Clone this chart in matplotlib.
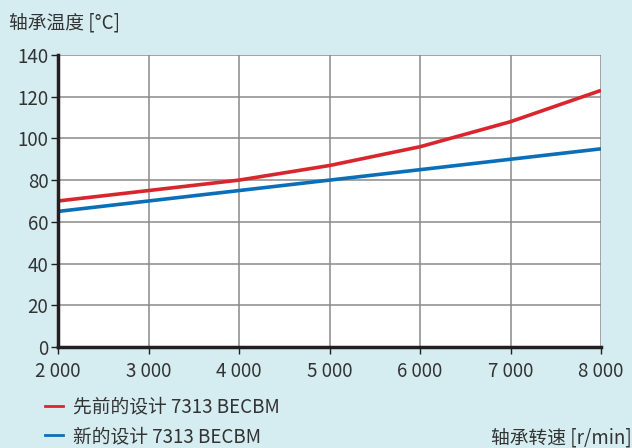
import matplotlib.pyplot as plt
from matplotlib.lines import Line2D

plt.rcParams['font.family'] = ['Noto Sans CJK SC', 'DejaVu Sans']

speed = [2000, 3000, 4000, 5000, 6000, 7000, 8000]
old_design = [70, 75, 80, 87, 96, 108, 123]
new_design = [65, 70, 75, 80, 85, 90, 95]
x_ticks = [2000, 3000, 4000, 5000, 6000, 7000, 8000]
x_labels = ['2 000', '3 000', '4 000', '5 000', '6 000', '7 000', '8 000']
y_ticks = [0, 20, 40, 60, 80, 100, 120, 140]

bg = '#d5edf1'
txt = '#333333'
red = '#d9262e'
blue = '#0a6fb8'
fs = 13.5

fig = plt.figure(figsize=(6.32, 4.48), dpi=100, facecolor=bg)
ax = fig.add_axes([0.092, 0.2254, 0.859, 0.652])
ax.set_facecolor('white')

ax.plot(speed, old_design, color=red, lw=2.6, solid_capstyle='butt')
ax.plot(speed, new_design, color=blue, lw=2.6, solid_capstyle='butt')

ax.set_xlim(2000, 8000)
ax.set_ylim(0, 140)
ax.set_xticks(x_ticks)
ax.set_xticklabels(x_labels)
ax.set_yticks(y_ticks)
ax.grid(True, color='#8a8a8a', lw=1.1)
ax.set_axisbelow(True)

for s in ['top', 'right']:
    ax.spines[s].set_visible(False)
for s in ['left', 'bottom']:
    ax.spines[s].set_linewidth(2.5)
    ax.spines[s].set_color('#231f20')
ax.tick_params(direction='out', length=5, width=1, color='#231f20',
               labelsize=fs, labelcolor=txt, pad=2)
ax.tick_params(axis='x', pad=5)

fig.text(0.014, 0.948, '轴承温度 [°C]', fontsize=fs, color=txt, va='center')
fig.text(0.999, 0.022, '轴承转速 [r/min]', fontsize=fs, color=txt,
         va='center', ha='right')

handles = [Line2D([], [], color=red, lw=2),
           Line2D([], [], color=blue, lw=2)]
fig.legend(handles, ['先前的设计 7313 BECBM', '新的设计 7313 BECBM'],
           loc='lower left', bbox_to_anchor=(0.045, -0.035), frameon=False,
           fontsize=fs, labelcolor=txt, handlelength=0.95, handletextpad=0.55,
           labelspacing=0.45)

fig.savefig('out.png', dpi=100, facecolor=bg)
